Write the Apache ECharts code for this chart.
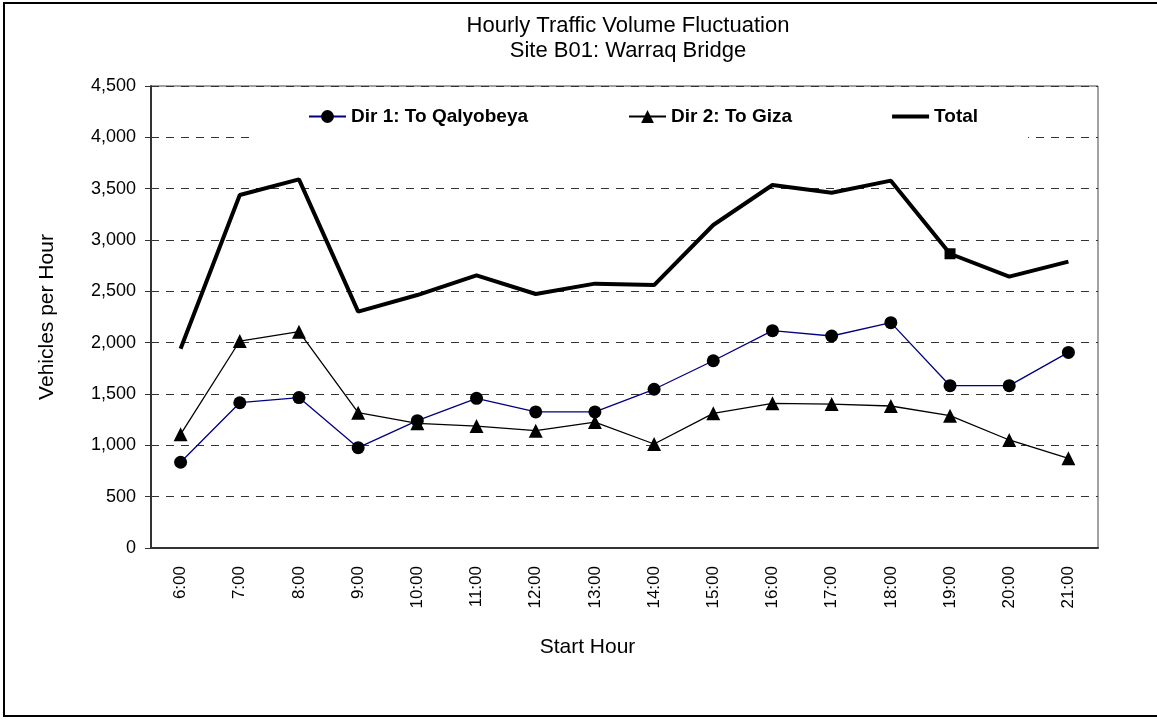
<!DOCTYPE html>
<html>
<head>
<meta charset="utf-8">
<title>Hourly Traffic Volume Fluctuation</title>
<script src="https://cdn.jsdelivr.net/npm/echarts@6/dist/echarts.min.js"></script>
<style>
  html, body { margin: 0; padding: 0; background: #fff; }
  #chart { width: 1157px; height: 720px; }
</style>
</head>
<body>
<div id="chart"></div>
<script>
// hourly counts
const hours = ['6:00', '7:00', '8:00', '9:00', '10:00', '11:00', '12:00', '13:00',
  '14:00', '15:00', '16:00', '17:00', '18:00', '19:00', '20:00', '21:00']
const dir1 = [835, 1415, 1465, 977, 1240, 1458, 1325, 1325, 1546, 1824, 2117, 2065, 2195, 1581, 1581, 1905]
const dir2 = [1107, 2016, 2107, 1318, 1214, 1188, 1143, 1227, 1013, 1312, 1409, 1402, 1383, 1289, 1052, 873]
const total = [1940, 3438, 3590, 2302, 2464, 2655, 2474, 2575, 2561, 3146, 3536, 3461, 3578, 2866, 2643, 2789]
const markedHour = '19:00'

const font = 'Liberation Sans, Arial, sans-serif'

const chart = echarts.init(document.getElementById('chart'))

const totalData = total.map(function(v, i) {
  if (hours[i] === markedHour) {
    return { value: v, symbol: 'rect', symbolSize: 11 }
  }
  return v
})

const option = {
  animation: false,
  backgroundColor: '#fff',
  textStyle: { fontFamily: font, color: '#000' },
  title: {
    text: 'Hourly Traffic Volume Fluctuation\nSite B01: Warraq Bridge',
    left: 628,
    top: 13,
    textAlign: 'center',
    padding: 0,
    textStyle: {
      fontFamily: font,
      fontSize: 22,
      fontWeight: 'normal',
      color: '#000',
      lineHeight: 25
    }
  },
  graphic: [
    {
      type: 'rect',
      silent: true,
      shape: { x: 4, y: 3, width: 1160, height: 713 },
      style: { fill: null, stroke: '#000', lineWidth: 2 }
    }
  ],
  legend: {
    left: 250,
    top: 97,
    padding: [10, 50, 14, 58],
    itemGap: 100,
    itemWidth: 37,
    itemHeight: 16,
    backgroundColor: '#fff',
    textStyle: { fontFamily: font, fontSize: 19, fontWeight: 'bold', color: '#000' },
    data: [
      'Dir 1: To Qalyobeya',
      'Dir 2: To Giza',
      { name: 'Total', icon: 'path://M0,0 L37,0 L37,4 L0,4 Z' }
    ]
  },
  grid: {
    left: 151,
    top: 86,
    right: 59,
    bottom: 172,
    show: true,
    borderColor: '#444',
    borderWidth: 1
  },
  xAxis: {
    type: 'category',
    data: hours,
    boundaryGap: true,
    name: 'Start Hour',
    nameLocation: 'middle',
    nameGap: 89,
    nameTextStyle: { fontFamily: font, fontSize: 21, color: '#000', padding: [0, 74, 0, 0] },
    axisLine: { lineStyle: { color: '#333', width: 2 } },
    axisTick: { length: 7, lineStyle: { color: '#333', width: 1 } },
    axisLabel: { rotate: 90, margin: 18, fontFamily: font, fontSize: 17, color: '#000' }
  },
  yAxis: {
    type: 'value',
    min: 0,
    max: 4500,
    interval: 500,
    name: 'Vehicles per Hour',
    nameLocation: 'middle',
    nameGap: 93,
    nameTextStyle: { fontFamily: font, fontSize: 21, color: '#000' },
    axisLine: { show: true, lineStyle: { color: '#333', width: 2 } },
    axisTick: { show: true, length: 6, lineStyle: { color: '#333', width: 1 } },
    axisLabel: {
      margin: 15,
      fontFamily: font,
      fontSize: 18,
      color: '#000',
      formatter: function(v) { return v.toLocaleString('en-US') }
    },
    splitLine: { lineStyle: { color: '#333', width: 1, type: [8, 7] } }
  },
  series: [
    {
      name: 'Dir 1: To Qalyobeya',
      type: 'line',
      data: dir1,
      symbol: 'circle',
      symbolSize: 13,
      itemStyle: { color: '#000' },
      lineStyle: { color: '#000080', width: 1.3 },
      z: 3
    },
    {
      name: 'Dir 2: To Giza',
      type: 'line',
      data: dir2,
      symbol: 'triangle',
      symbolSize: 14,
      itemStyle: { color: '#000' },
      lineStyle: { color: '#000', width: 1.3 },
      z: 3
    },
    {
      name: 'Total',
      type: 'line',
      data: totalData,
      symbol: 'none',
      itemStyle: { color: '#000' },
      lineStyle: { color: '#000', width: 4 },
      z: 3
    }
  ]
}

chart.setOption(option)
</script>
</body>
</html>
